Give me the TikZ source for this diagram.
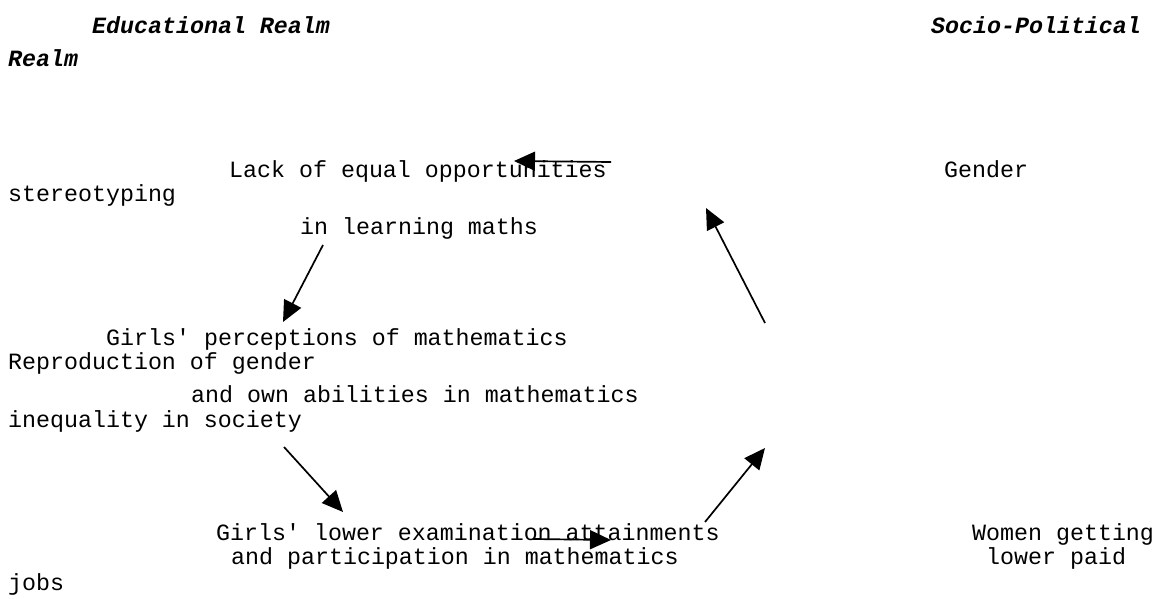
\documentclass[tikz,border=0pt]{standalone}
\usepackage{fontspec}
\setmainfont{Liberation Mono}
\usetikzlibrary{arrows.meta}
\begin{document}
\begin{tikzpicture}[x=1pt,y=-1pt,
  txt/.style={anchor=base west,inner sep=0pt,font=\fontsize{23.3}{28}\selectfont},
  head/.style={txt,font=\fontsize{23.3}{28}\selectfont\bfseries\itshape},
  arr/.style={line width=1.7pt,-{Triangle[length=21pt,width=19pt]}}]
\useasboundingbox (0,0) rectangle (1172,599);
\node[head] (h1) at (92,34) {Educational Realm};
\node[head] (h2) at (931,34) {Socio-Political};
\node[head] (h3) at (8,67) {Realm};
\node[txt] (t1) at (229,177) {Lack of equal opportunities};
\node[txt] (t2) at (944,177) {Gender};
\node[txt] (t3) at (8,201) {stereotyping};
\node[txt] (t4) at (300,234) {in learning maths};
\node[txt] (t5) at (106,345) {Girls\textquotesingle{} perceptions of mathematics};
\node[txt] (t6) at (8,369) {Reproduction of gender};
\node[txt] (t7) at (191,402) {and own abilities in mathematics};
\node[txt] (t8) at (8,427) {inequality in society};
\node[txt] (t9) at (216,540) {Girls\textquotesingle{} lower examination attainments};
\node[txt] (t10) at (972,540) {Women getting};
\node[txt] (t11) at (231,564) {and participation in mathematics};
\node[txt] (t12) at (986,564) {lower paid};
\node[txt] (t13) at (8,590) {jobs};
\coordinate (a1s) at (611,162); \coordinate (a1e) at (514,161);
\coordinate (a2s) at (323,245); \coordinate (a2e) at (283,322);
\coordinate (a3s) at (765,323); \coordinate (a3e) at (706,208);
\coordinate (a4s) at (284,447); \coordinate (a4e) at (343,512);
\coordinate (a5s) at (533,539); \coordinate (a5e) at (611,540);
\coordinate (a6s) at (705,522); \coordinate (a6e) at (765,448);
\draw[arr] (a1s) -- (a1e);
\draw[arr] (a2s) -- (a2e);
\draw[arr] (a3s) -- (a3e);
\draw[arr] (a4s) -- (a4e);
\draw[arr] (a5s) -- (a5e);
\draw[arr] (a6s) -- (a6e);
\end{tikzpicture}
\end{document}
